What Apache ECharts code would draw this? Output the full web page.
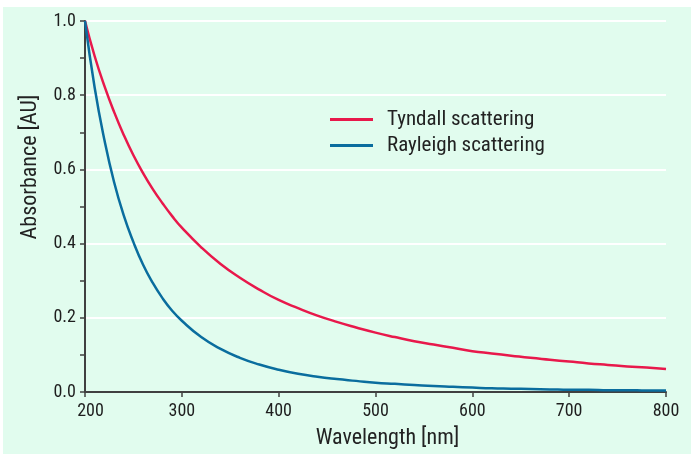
<!DOCTYPE html>
<html><head><meta charset="utf-8">
<script src="https://cdn.jsdelivr.net/npm/echarts@6/dist/echarts.min.js"></script>
<style>html,body{margin:0;padding:0;background:#fff}#c{width:691px;height:454px}</style>
</head><body><div id="c"></div>
<script>
var wavelengths = [200,210,220,230,240,250,260,270,280,290,300,320,340,360,380,400,420,440,460,480,500,520,540,560,580,600,620,640,660,680,700,720,740,760,780,800];
var tyndall = [1.000,0.905,0.825,0.755,0.693,0.638,0.590,0.547,0.509,0.474,0.443,0.390,0.345,0.308,0.276,0.248,0.226,0.206,0.189,0.174,0.160,0.148,0.137,0.128,0.119,0.110,0.104,0.098,0.092,0.087,0.082,0.077,0.073,0.069,0.066,0.062];
var rayleigh = [1.000,0.820,0.680,0.566,0.476,0.404,0.343,0.294,0.253,0.219,0.192,0.148,0.116,0.092,0.074,0.060,0.049,0.041,0.035,0.030,0.025,0.022,0.019,0.016,0.014,0.012,0.010,0.009,0.008,0.007,0.006,0.006,0.005,0.005,0.004,0.004];
var seriesNames = ['Tyndall scattering','Rayleigh scattering'];
var xTicks = [200,300,400,500,600,700,800];
var yTicks = [0.0,0.2,0.4,0.6,0.8,1.0];

var FONT = "'Roboto Condensed','Liberation Sans Narrow','DejaVu Sans Condensed',sans-serif";
function pairs(v){return wavelengths.map(function(w,i){return [w,v[i]];});}
var chart = echarts.init(document.getElementById('c'));
chart.setOption({
  animation:false,
  backgroundColor:'#ffffff',
  textStyle:{fontFamily:FONT},
  graphic:[
    {type:'rect',z:-10,shape:{x:3,y:7,width:688,height:447},style:{fill:'#e1fcee'}},
    {type:'text',x:30,y:167,rotation:Math.PI/2,style:{text:'Absorbance [AU]',font:"22px "+FONT,fill:'#222',textAlign:'center',textVerticalAlign:'middle'}}
  ],
  grid:{left:85,right:25,top:21,bottom:62,containLabel:false},
  legend:{
    orient:'vertical',left:325,top:104,itemWidth:43,itemHeight:3,itemGap:5,
    icon:'rect',data:seriesNames,
    textStyle:{fontFamily:FONT,fontSize:21,color:'#222',padding:[0,0,0,9],lineHeight:21}
  },
  xAxis:{
    type:'value',min:200,max:800,interval:100,
    name:'Wavelength [nm]',nameLocation:'middle',nameGap:35,
    nameTextStyle:{fontFamily:FONT,fontSize:22,color:'#222',padding:[0,0,0,24]},
    axisLine:{lineStyle:{color:'#404040',width:2}},
    axisTick:{show:true,length:5,lineStyle:{color:'#404040',width:1.5}},
    axisLabel:{fontFamily:FONT,fontSize:18,color:'#1e1e1e',margin:10,
      formatter:function(v){
        if(xTicks.indexOf(v)<0) return '';
        return v===xTicks[0] ? '{first|'+v+'}' : String(v);
      },
      rich:{first:{fontFamily:FONT,fontSize:18,color:'#1e1e1e',padding:[0,0,0,11]}}
    },
    splitLine:{show:false}
  },
  yAxis:{
    type:'value',min:0,max:1,interval:0.2,
    axisLine:{show:true,lineStyle:{color:'#404040',width:2}},
    axisTick:{show:true,length:5,lineStyle:{color:'#404040',width:1.5}},
    minorTick:{show:true,splitNumber:2,length:5,lineStyle:{color:'#404040',width:1.5}},
    axisLabel:{fontFamily:FONT,fontSize:18,color:'#1e1e1e',margin:9,
      formatter:function(v){return yTicks[Math.round(v*5)].toFixed(1);}},
    splitLine:{show:true,lineStyle:{color:'#ffffff',width:2}}
  },
  series:[
    {name:seriesNames[0],type:'line',data:pairs(tyndall),smooth:true,showSymbol:false,
      lineStyle:{color:'#e8184b',width:2.5},itemStyle:{color:'#e8184b'},z:3},
    {name:seriesNames[1],type:'line',data:pairs(rayleigh),smooth:true,showSymbol:false,
      lineStyle:{color:'#0a6d9e',width:2.5},itemStyle:{color:'#0a6d9e'},z:4}
  ]
});
</script></body></html>
